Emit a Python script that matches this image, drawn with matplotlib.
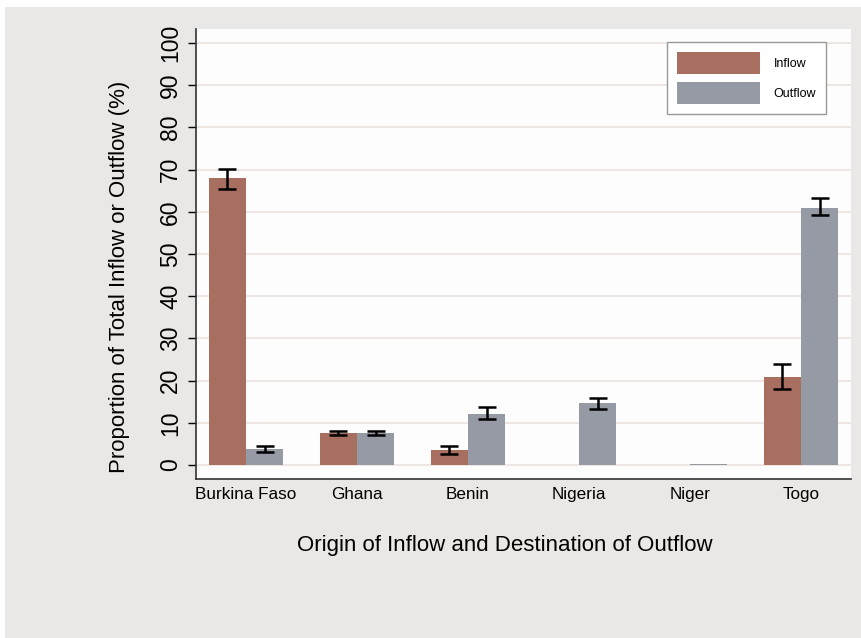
import numpy as np
import matplotlib.pyplot as plt
from matplotlib.patches import Rectangle

# Data
countries = ['Burkina Faso', 'Ghana', 'Benin', 'Nigeria', 'Niger', 'Togo']
inflow = [68.0, 7.6, 3.6, 0.0, 0.0, 20.9]
inflow_lo = [65.4, 7.1, 2.7, 0.0, 0.0, 18.0]
inflow_hi = [70.2, 8.1, 4.6, 0.0, 0.0, 23.9]
outflow = [3.8, 7.6, 12.2, 14.7, 0.2, 61.0]
outflow_lo = [3.2, 7.1, 10.9, 13.4, 0.2, 59.3]
outflow_hi = [4.4, 8.1, 13.7, 15.9, 0.2, 63.2]
yticks = list(range(0, 101, 10))

inflow_color = '#A86E60'
outflow_color = '#959AA5'
bg_color = '#EAE8E6'

plt.rcParams['font.family'] = ['Liberation Sans', 'DejaVu Sans']

fig = plt.figure(figsize=(8.62, 6.38), dpi=100, facecolor='white')
# gray graph region (Stata style), kept behind the axes
fig.patches.append(Rectangle((5 / 862, 0), 1 - 5 / 862, 1 - 7 / 638,
                             transform=fig.transFigure, facecolor=bg_color,
                             edgecolor='none', zorder=-10))

ax = fig.add_axes([196 / 862, 1 - 479 / 638, (851 - 196) / 862, (479 - 29) / 638])
ax.set_facecolor('#FDFDFE')

x = np.arange(len(countries))
w = 0.335

inflow = np.array(inflow)
outflow = np.array(outflow)
in_err = [inflow - np.array(inflow_lo), np.array(inflow_hi) - inflow]
out_err = [outflow - np.array(outflow_lo), np.array(outflow_hi) - outflow]

ax.bar(x - w / 2, inflow, w, color=inflow_color, label='Inflow', zorder=2)
ax.bar(x + w / 2, outflow, w, color=outflow_color, label='Outflow', zorder=2)

# error bars only where there is a confidence interval
has_in = (np.array(inflow_hi) - np.array(inflow_lo)) > 0
has_out = (np.array(outflow_hi) - np.array(outflow_lo)) > 0
ax.errorbar((x - w / 2)[has_in], inflow[has_in],
            yerr=[in_err[0][has_in], in_err[1][has_in]],
            fmt='none', ecolor='black', elinewidth=1.8, capsize=6.5, capthick=1.8, zorder=3)
ax.errorbar((x + w / 2)[has_out], outflow[has_out],
            yerr=[out_err[0][has_out], out_err[1][has_out]],
            fmt='none', ecolor='black', elinewidth=1.8, capsize=6.5, capthick=1.8, zorder=3)

ax.set_xlim(-0.45, len(countries) - 1 + 0.45)
ax.set_ylim(-3.3, 103.3)
ax.set_yticks(yticks)
ax.set_yticklabels([str(t) for t in yticks], rotation=90, va='center', fontsize=16.5)
ax.set_xticks(x)
ax.set_xticklabels(countries, fontsize=12.3)
ax.tick_params(axis='x', length=0, pad=6)
ax.tick_params(axis='y', length=6, width=1, direction='out', pad=4)

ax.yaxis.grid(True, color='#EEE6E2', linewidth=1.5, zorder=0)
ax.set_axisbelow(True)
for s in ['top', 'right']:
    ax.spines[s].set_visible(False)
for s in ['left', 'bottom']:
    ax.spines[s].set_color('#333333')
    ax.spines[s].set_linewidth(1.2)

ax.set_ylabel('Proportion of Total Inflow or Outflow (%)', fontsize=16)
ax.yaxis.set_label_coords(-0.101, 0.449)
ax.set_xlabel('Origin of Inflow and Destination of Outflow', fontsize=16)
ax.xaxis.set_label_coords(0.472, -0.124)

leg = ax.legend(loc='upper right', bbox_to_anchor=(0.962, 0.971), fontsize=9,
                handlelength=6.6, handleheight=2.35, handletextpad=1.1,
                borderpad=0.8, labelspacing=0.6, borderaxespad=0,
                fancybox=False, framealpha=1, edgecolor='#999999')
leg.get_frame().set_linewidth(1.0)

fig.savefig('out.png', dpi=100, facecolor=fig.get_facecolor())
